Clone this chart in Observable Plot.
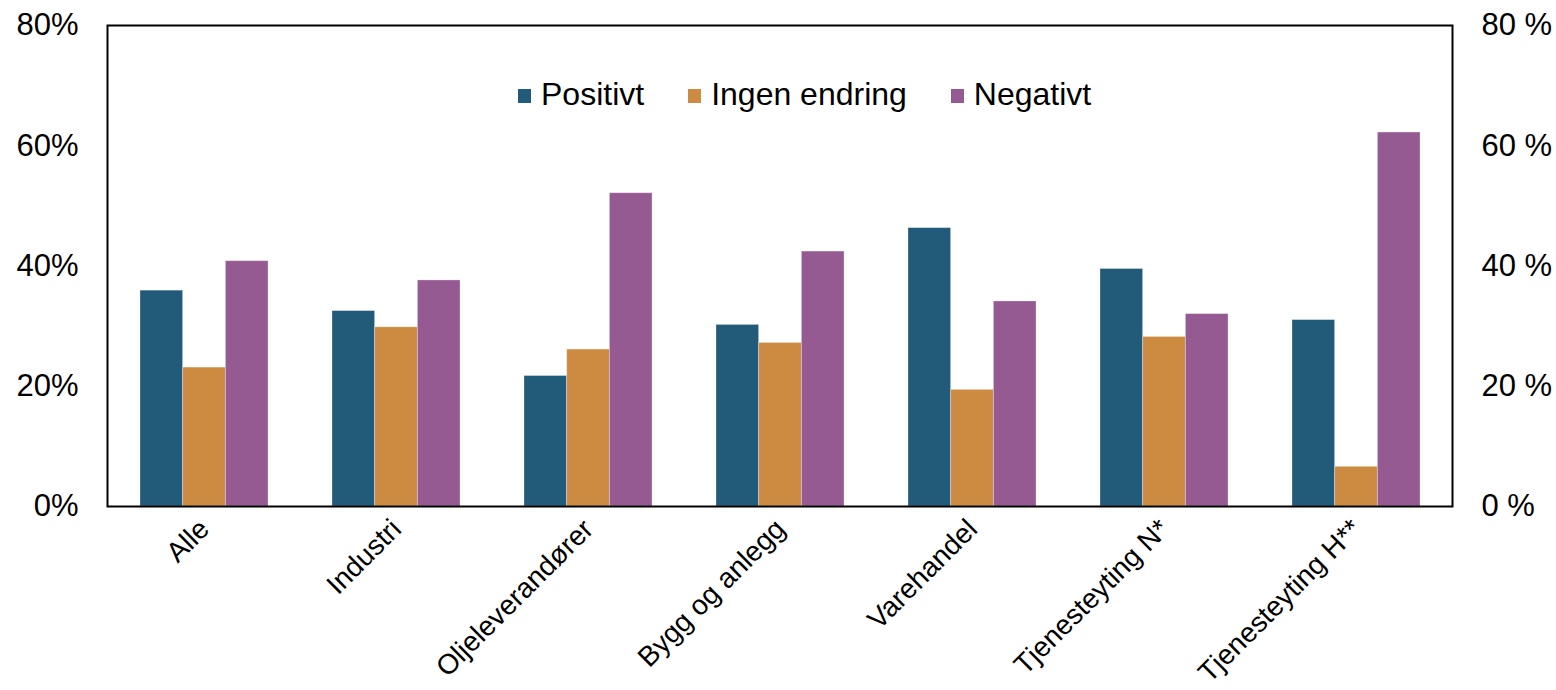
<!DOCTYPE html>
<html><head><meta charset="utf-8">
<script src="https://cdn.jsdelivr.net/npm/d3@7"></script>
<script src="https://cdn.jsdelivr.net/npm/@observablehq/plot@0.6"></script>
<style>
body{margin:0;background:#fff;font-family:"Liberation Sans",Arial,sans-serif}
#wrap{position:relative;width:1556px;height:690px;overflow:hidden}
#legend{position:absolute;left:518px;top:77px;display:flex;align-items:center;font-size:32px;line-height:34px;color:#000;white-space:nowrap}
#legend .item{display:flex;align-items:center;margin-right:44px}
#legend .sw{width:13px;height:14px;margin-right:10px;margin-top:3px}
</style></head><body>
<div id="wrap"><div id="chart"></div><div id="legend"></div></div>
<script>
const categories = ["Alle","Industri","Oljeleverandører","Bygg og anlegg","Varehandel","Tjenesteyting N*","Tjenesteyting H**"];
const seriesNames = ["Positivt","Ingen endring","Negativt"];
const positivt = [35.9, 32.5, 21.7, 30.2, 46.3, 39.5, 31.0];
const ingenEndring = [23.1, 29.8, 26.1, 27.2, 19.4, 28.2, 6.6];
const negativt = [40.8, 37.6, 52.1, 42.4, 34.1, 32.0, 62.2];
const colors = ["#225B79","#CD8B42","#965A93"];
const yTicks = [0, 20, 40, 60, 80];

const seriesValues = [positivt, ingenEndring, negativt];
const rows = [];
seriesNames.forEach((s, j) => categories.forEach((c, i) => rows.push({category: c, series: s, value: seriesValues[j][i]})));

const W = 1556, H = 690, ML = 107, MR = 104, MT = 25, MB = 184;
const step = (W - ML - MR) / categories.length;
const bw = step * (2/3);
const third = bw / 3;

const barMarks = seriesNames.map((s, j) => Plot.barY(rows.filter(d => d.series === s), {
  x: "category", y: "value", fill: colors[j],
  insetLeft: j * third, insetRight: (2 - j) * third,
  stroke: "white", strokeOpacity: 0.35, strokeWidth: 0.8
}));

const chart = Plot.plot({
  width: W, height: H,
  marginLeft: ML, marginRight: MR, marginTop: MT, marginBottom: MB,
  style: {fontFamily: "'Liberation Sans', Arial, sans-serif", background: "white", color: "black"},
  x: {domain: categories, paddingInner: 1/3, paddingOuter: 1/6, label: null},
  y: {domain: [0, 80], label: null},
  marks: [
    ...barMarks,
    Plot.frame({stroke: "black", strokeWidth: 2}),
    Plot.axisY({anchor: "left", ticks: yTicks, tickFormat: d => d + "%", tickSize: 0, tickPadding: 29, fontSize: 31, label: null}),
    Plot.axisY({anchor: "right", ticks: yTicks, tickFormat: d => d + " %", tickSize: 0, tickPadding: 29, fontSize: 31, label: null}),
    Plot.axisX({tickRotate: -45, tickSize: 0, tickPadding: 18, fontSize: 28, label: null})
  ]
});
document.getElementById("chart").appendChild(chart);

const legend = document.getElementById("legend");
seriesNames.forEach((s, j) => {
  const item = document.createElement("div");
  item.className = "item";
  const sw = document.createElement("span");
  sw.className = "sw"; sw.style.background = colors[j];
  const t = document.createElement("span"); t.textContent = s;
  item.appendChild(sw); item.appendChild(t); legend.appendChild(item);
});
</script>
</body></html>
